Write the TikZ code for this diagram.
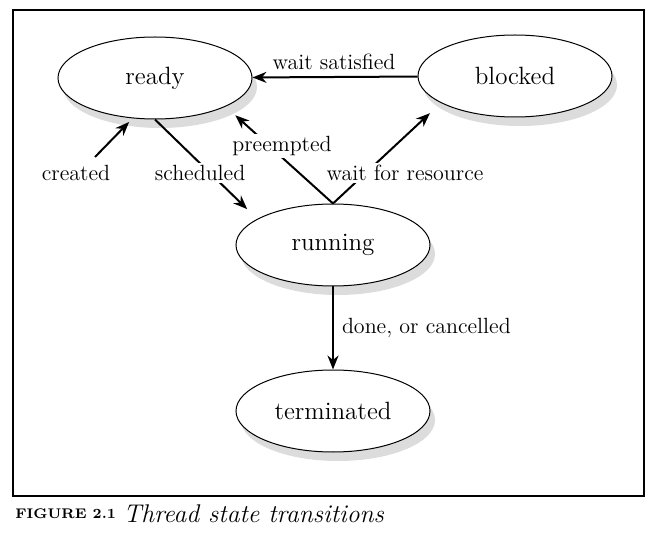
\documentclass[tikz,border=0pt]{standalone}
\usepackage{tikz}
\usetikzlibrary{shapes.geometric,shadows,arrows.meta}

\begin{document}
\begin{tikzpicture}[x=0.5pt,y=-0.5pt,>={Stealth[length=7pt,width=5.5pt]},
	state/.style={draw,ellipse,line width=0.5pt,fill=white,minimum width=97pt,minimum height=41pt,inner sep=0pt,
		font=\fontsize{12.5}{15}\selectfont,drop shadow={shadow xshift=2.5pt,shadow yshift=-4.5pt,fill=gray!55}},
	trans/.style={->,line width=1pt},
	lbl/.style={font=\fontsize{11}{13}\selectfont,inner sep=1pt}]
				\useasboundingbox (0,0) rectangle (653,534);
				\draw[line width=1.3pt] (13,10) rectangle (644,496);
				% the four states of a thread
				\node[state] (ready) at (155,78) {ready};
				\node[state] (blocked) at (515,76) {blocked};
				\node[state] (running) at (333,245) {running};
				\node[state] (terminated) at (333,411) {terminated};
				\coordinate (new) at (95,157);
				% transitions between them
				\draw[trans] (blocked) -- (ready);
				\draw[trans,shorten >=2.5pt] (new) -- (ready.-119);
				\draw[trans,shorten >=7pt] (ready.south) -- (running.161);
				\draw[trans,shorten >=6.5pt] (running.north) -- (ready.-22);
				\draw[trans,shorten >=7.5pt] (running.north) -- (blocked.200);
				\draw[trans] (running) -- (terminated) node[lbl,midway,right=3pt] {done, or cancelled};
				% labels, some of them sit on their line
				\node[lbl] (satisfied) at (334,62) {wait satisfied};
				\node[lbl] (created) at (76,173) {created};
				\node[lbl,fill=white] (scheduled) at (200,173) {scheduled};
				\node[lbl,fill=white] (preempted) at (282,146) {preempted};
				\node[lbl,fill=white] (resource) at (405,173) {wait for resource};
				% caption under the frame
				\node[anchor=west,inner sep=0pt,font=\fontsize{7}{9}\selectfont\bfseries] (fig) at (15,514) {FIGURE 2.1};
				\node[anchor=west,inner sep=0pt,font=\fontsize{12.8}{15}\selectfont\itshape] (caption) at (123,514) {Thread state transitions};
			\end{tikzpicture}
\end{document}
